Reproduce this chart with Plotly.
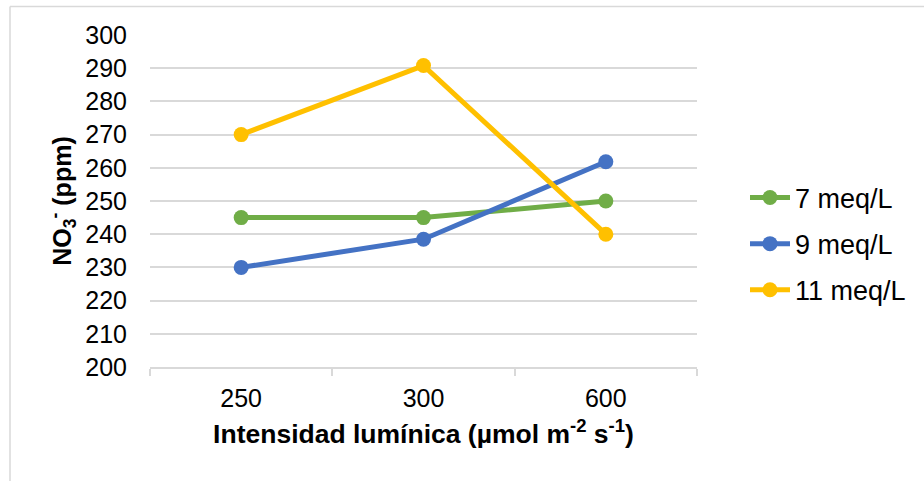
import plotly.graph_objects as go

categories = ["250", "300", "600"]
series_names = ["7 meq/L", "9 meq/L", "11 meq/L"]
v7 = [245, 245, 250]
v9 = [230, 238.5, 261.8]
v11 = [270, 290.8, 240]
colors = ["#70AD47", "#4472C4", "#FFC000"]

W, H = 924, 481
L, R, T, B = 150, 697, 35, 367

fig = go.Figure()
for i, (name, vals, c) in enumerate(zip(series_names, [v7, v9, v11], colors)):
    fig.add_trace(go.Scatter(
        x=categories, y=vals, name=name, mode="lines+markers",
        legendgroup="g%d" % i,
        line=dict(color=c, width=5),
        marker=dict(color=c, size=15),
    ))

def px_x(x):
    return (x - L) / (R - L)

def px_y(y):
    return (B - y) / (B - T)

border = "#d9d9d9"
fig.add_shape(type="line", xref="paper", yref="paper",
              x0=px_x(10), x1=px_x(924), y0=px_y(6.5), y1=px_y(6.5),
              line=dict(color=border, width=1.5))
fig.add_shape(type="line", xref="paper", yref="paper",
              x0=px_x(10), x1=px_x(10), y0=px_y(6.5), y1=px_y(481),
              line=dict(color=border, width=1.5))

font = "Liberation Sans, Arial, sans-serif"
FS = 25
fig.update_layout(
    width=W, height=H,
    margin=dict(l=L, r=W - R, t=T, b=H - B, pad=0),
    paper_bgcolor="white", plot_bgcolor="white",
    font=dict(family=font, size=FS, color="#000000"),
    showlegend=True,
    legend=dict(x=px_x(745), y=px_y(244), xanchor="left", yanchor="middle",
                font=dict(size=27, family=font), traceorder="grouped",
                tracegroupgap=8, itemwidth=40),
    xaxis=dict(
        type="category", range=[-0.5, 2.5],
        showgrid=False, showline=True, linecolor=border, linewidth=1.5,
        ticks="outside", tickson="boundaries", ticklen=7,
        tickcolor=border, tickwidth=1.5,
        tickfont=dict(size=FS), ticklabelstandoff=8,
        title=dict(text="<b>Intensidad lumínica (µmol m<sup>-2</sup> s<sup>-1</sup>)</b>",
                   font=dict(size=26.5), standoff=14),
    ),
    yaxis=dict(
        range=[200, 300], dtick=10, tick0=200,
        showgrid=True, gridcolor=border, gridwidth=1.5,
        zeroline=False, showline=False,
        tickfont=dict(size=FS), ticklabelstandoff=22,
        title=dict(text="<b>NO<sub>3</sub><sup>-</sup> (ppm)</b>",
                   font=dict(size=FS), standoff=6),
    ),
)

fig.write_html("out.html")
